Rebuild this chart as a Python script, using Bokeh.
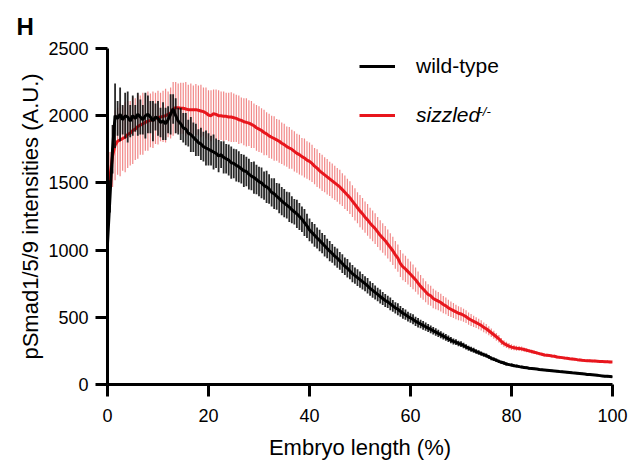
from bokeh.plotting import figure
from bokeh.models import Range1d, Legend, LegendItem, Label, ColumnDataSource
from bokeh.embed import file_html
from bokeh.resources import INLINE

# Embryo length (%) sampling positions
embryo_length = [
    0, 0.5, 1, 1.5, 2, 2.5, 3, 3.5, 4, 4.5,
    5, 5.5, 6, 6.5, 7, 7.5, 8, 8.5, 9, 9.5,
    10, 10.5, 11, 11.5, 12, 12.5, 13, 13.5, 14, 14.5,
    15, 15.5, 16, 16.5, 17, 17.5, 18, 18.5, 19, 19.5,
    20, 20.5, 21, 21.5, 22, 22.5, 23, 23.5, 24, 24.5,
    25, 25.5, 26, 26.5, 27, 27.5, 28, 28.5, 29, 29.5,
    30, 30.5, 31, 31.5, 32, 32.5, 33, 33.5, 34, 34.5,
    35, 35.5, 36, 36.5, 37, 37.5, 38, 38.5, 39, 39.5,
    40, 40.5, 41, 41.5, 42, 42.5, 43, 43.5, 44, 44.5,
    45, 45.5, 46, 46.5, 47, 47.5, 48, 48.5, 49, 49.5,
    50, 50.5, 51, 51.5, 52, 52.5, 53, 53.5, 54, 54.5,
    55, 55.5, 56, 56.5, 57, 57.5, 58, 58.5, 59, 59.5,
    60, 60.5, 61, 61.5, 62, 62.5, 63, 63.5, 64, 64.5,
    65, 65.5, 66, 66.5, 67, 67.5, 68, 68.5, 69, 69.5,
    70, 70.5, 71, 71.5, 72, 72.5, 73, 73.5, 74, 74.5,
    75, 75.5, 76, 76.5, 77, 77.5, 78, 78.5, 79, 79.5,
    80, 80.5, 81, 81.5, 82, 82.5, 83, 83.5, 84, 84.5,
    85, 85.5, 86, 86.5, 87, 87.5, 88, 88.5, 89, 89.5,
    90, 90.5, 91, 91.5, 92, 92.5, 93, 93.5, 94, 94.5,
    95, 95.5, 96, 96.5, 97, 97.5, 98, 98.5, 99, 99.5,
    100,
]

wt_mean = [
    1050, 1400, 1750, 2000, 1980, 2010, 1970, 2000, 1990, 1960,
    2000, 1980, 2010, 1990, 1970, 2000, 2010, 1990, 1960, 1990,
    1980, 1950, 1960, 1940, 1970, 2010, 2050, 2000, 1960, 1940,
    1910, 1900, 1870, 1860, 1840, 1820, 1800, 1790, 1770, 1760,
    1750, 1740, 1730, 1720, 1700, 1710, 1690, 1680, 1670, 1650,
    1645, 1630, 1620, 1605, 1590, 1585, 1565, 1550, 1540, 1525,
    1510, 1500, 1480, 1470, 1455, 1430, 1420, 1400, 1385, 1365,
    1350, 1335, 1320, 1300, 1285, 1270, 1250, 1230, 1205, 1180,
    1150, 1130, 1110, 1090, 1072, 1052, 1032, 1012, 992, 975,
    955, 940, 920, 900, 880, 865, 845, 825, 810, 795,
    780, 765, 750, 735, 715, 700, 685, 670, 655, 640,
    625, 615, 600, 585, 570, 560, 545, 530, 520, 505,
    495, 485, 470, 460, 450, 440, 430, 420, 410, 400,
    390, 380, 370, 360, 350, 340, 330, 320, 315, 305,
    300, 290, 280, 270, 262, 255, 245, 238, 230, 222,
    215, 205, 195, 188, 180, 172, 165, 160, 152, 148,
    145, 140, 137, 133, 130, 127, 124, 121, 119, 117,
    115, 112, 110, 108, 106, 104, 102, 100, 98, 96,
    95, 93, 91, 89, 87, 86, 84, 82, 80, 78,
    75, 74, 72, 70, 68, 66, 64, 62, 61, 60,
    58,
]

wt_err = [
    60, 120, 180, 240, 130, 200, 110, 170, 190, 120,
    150, 100, 160, 130, 110, 170, 140, 120, 150, 100,
    130, 110, 140, 120, 100, 150, 110, 130, 100, 120,
    110, 120, 100, 130, 110, 120, 100, 120, 110, 130,
    120, 110, 130, 110, 120, 100, 120, 110, 115, 120,
    110, 120, 115, 110, 120, 110, 115, 105, 120, 110,
    110, 115, 105, 120, 110, 105, 115, 100, 110, 105,
    105, 100, 110, 100, 95, 105, 100, 95, 100, 90,
    85, 80, 85, 78, 80, 75, 80, 72, 75, 70,
    70, 72, 66, 70, 65, 68, 62, 64, 60, 62,
    60, 58, 56, 57, 54, 55, 52, 50, 52, 48,
    48, 46, 47, 44, 42, 44, 40, 40, 38, 37,
    36, 37, 34, 35, 32, 33, 31, 30, 29, 28,
    28, 27, 26, 25, 25, 24, 23, 22, 22, 21,
    21, 20, 20, 19, 18, 18, 17, 16, 16, 15,
    15, 14, 14, 13, 13, 12, 12, 12, 11, 11,
    11, 10, 10, 10, 9, 9, 9, 9, 8, 8,
    8, 8, 8, 8, 7, 7, 7, 7, 7, 7,
    7, 7, 7, 7, 7, 7, 7, 7, 7, 7,
    7, 7, 7, 7, 7, 7, 7, 8, 8, 8,
    8,
]

szl_mean = [
    1350, 1550, 1700, 1780, 1810, 1820, 1830, 1840, 1860, 1870,
    1890, 1900, 1920, 1930, 1940, 1950, 1960, 1965, 1970, 1980,
    1985, 1990, 1995, 2000, 2010, 2020, 2050, 2060, 2060, 2055,
    2055, 2050, 2045, 2045, 2045, 2045, 2040, 2035, 2030, 2020,
    2005, 2000, 2015, 2010, 2000, 2000, 1995, 1995, 1990, 1990,
    1985, 1980, 1970, 1965, 1955, 1950, 1945, 1935, 1925, 1910,
    1900, 1890, 1875, 1865, 1850, 1840, 1830, 1820, 1810, 1795,
    1785, 1770, 1760, 1750, 1735, 1720, 1710, 1695, 1685, 1670,
    1660, 1645, 1625, 1610, 1590, 1575, 1560, 1545, 1530, 1515,
    1500, 1485, 1470, 1450, 1430, 1410, 1390, 1365, 1340, 1315,
    1290, 1270, 1245, 1225, 1200, 1180, 1160, 1135, 1110, 1090,
    1070, 1045, 1020, 995, 965, 940, 900, 875, 860, 840,
    820, 800, 780, 755, 730, 710, 690, 670, 660, 640,
    630, 620, 610, 595, 585, 570, 560, 550, 540, 530,
    525, 515, 505, 490, 480, 470, 460, 450, 440, 425,
    415, 400, 385, 370, 355, 340, 320, 305, 295, 285,
    278, 274, 270, 268, 265, 260, 255, 250, 245, 240,
    235, 230, 225, 220, 218, 215, 212, 210, 205, 202,
    200, 197, 195, 192, 190, 188, 185, 183, 180, 178,
    177, 176, 175, 174, 173, 172, 171, 170, 170, 168,
    168,
]

szl_err = [
    100, 180, 230, 260, 250, 270, 240, 260, 250, 240,
    250, 230, 240, 220, 230, 210, 220, 200, 210, 190,
    200, 180, 190, 200, 170, 190, 200, 190, 180, 190,
    190, 200, 185, 195, 180, 190, 185, 195, 180, 190,
    185, 190, 180, 185, 190, 180, 185, 175, 180, 185,
    180, 175, 180, 170, 175, 180, 170, 175, 165, 170,
    170, 165, 170, 160, 165, 160, 165, 155, 160, 155,
    155, 150, 155, 145, 150, 145, 148, 140, 145, 140,
    140, 138, 135, 140, 132, 135, 130, 132, 128, 130,
    128, 125, 128, 122, 125, 120, 122, 118, 120, 115,
    120, 118, 116, 118, 115, 114, 115, 112, 112, 110,
    110, 108, 106, 105, 103, 102, 100, 100, 98, 96,
    95, 92, 90, 86, 84, 80, 78, 76, 74, 72,
    70, 68, 66, 64, 62, 60, 58, 56, 54, 52,
    50, 48, 47, 46, 44, 42, 40, 39, 38, 36,
    35, 33, 32, 30, 29, 28, 26, 25, 24, 23,
    22, 20, 19, 18, 17, 16, 15, 14, 14, 13,
    13, 12, 12, 12, 11, 11, 11, 11, 10, 10,
    10, 10, 10, 10, 10, 10, 10, 10, 10, 10,
    10, 10, 10, 10, 10, 10, 10, 10, 10, 10,
    10,
]

x_ticks = [0, 20, 40, 60, 80, 100]
y_ticks = [0, 500, 1000, 1500, 2000, 2500]

FONT = "Liberation Sans"

wt_src = ColumnDataSource(dict(
    x=embryo_length, y=wt_mean,
    lo=[m - e for m, e in zip(wt_mean, wt_err)],
    hi=[m + e for m, e in zip(wt_mean, wt_err)],
))
szl_src = ColumnDataSource(dict(
    x=embryo_length, y=szl_mean,
    lo=[m - e for m, e in zip(szl_mean, szl_err)],
    hi=[m + e for m, e in zip(szl_mean, szl_err)],
))

p = figure(frame_width=505, frame_height=336, x_range=Range1d(0, 100), y_range=Range1d(0, 2500),
           output_backend="svg", toolbar_location=None,
           min_border_left=107, min_border_right=20, min_border_top=48, min_border_bottom=76)
p.outline_line_color = None
p.xgrid.visible = False
p.ygrid.visible = False
p.background_fill_color = "white"

p.title.text = "H"
p.title.align = "left"
p.title.offset = -91
p.title.standoff = 17
p.title.text_font = FONT
p.title.text_font_size = "24px"
p.title.text_font_style = "bold"
p.title.text_color = "black"

p.segment(x0="x", y0="lo", x1="x", y1="hi", source=szl_src,
          line_color="#ef7373", line_alpha=0.85, line_width=1.2)
szl_line = p.line("x", "y", source=szl_src, line_color="#e8161d", line_width=3)
p.segment(x0="x", y0="lo", x1="x", y1="hi", source=wt_src,
          line_color="#111111", line_alpha=0.9, line_width=1.8)
wt_line = p.line("x", "y", source=wt_src, line_color="black", line_width=3)

for ax in (p.xaxis[0], p.yaxis[0]):
    ax.axis_line_width = 3
    ax.major_tick_line_width = 3
    ax.major_tick_out = 12
    ax.major_tick_in = 0
    ax.minor_tick_out = 0
    ax.minor_tick_in = 0
    ax.major_label_text_font = FONT
    ax.major_label_text_font_size = "18px"
    ax.major_label_text_color = "black"
    ax.axis_label_text_font = FONT
    ax.axis_label_text_font_size = "22px"
    ax.axis_label_text_font_style = "normal"
    ax.axis_label_text_color = "black"

p.xaxis.ticker = x_ticks
p.yaxis.ticker = y_ticks
p.xaxis.axis_label = "Embryo length (%)"
p.yaxis.axis_label = "pSmad1/5/9 intensities (A.U.)"
p.xaxis.major_label_standoff = 12
p.xaxis.axis_label_standoff = 10
p.yaxis.major_label_standoff = 7
p.yaxis.axis_label_standoff = 2

common = dict(padding=0, margin=0, border_line_alpha=0, background_fill_alpha=0,
              glyph_width=36, label_standoff=21, label_text_font=FONT,
              label_text_font_size="21px", label_text_color="black")
leg1 = Legend(items=[LegendItem(label="wild-type", renderers=[wt_line])],
              location=(252, 306), **common)
leg2 = Legend(items=[LegendItem(label="sizzled", renderers=[szl_line])],
              location=(252, 257), label_text_font_style="italic", **common)
p.add_layout(leg1)
p.add_layout(leg2)

p.add_layout(Label(x=371, y=273, x_units="screen", y_units="screen", text="-/-",
                   text_font=FONT, text_font_size="13px", text_font_style="italic",
                   text_baseline="alphabetic", text_color="black"))

open("out.html", "w").write(file_html(p, INLINE))
